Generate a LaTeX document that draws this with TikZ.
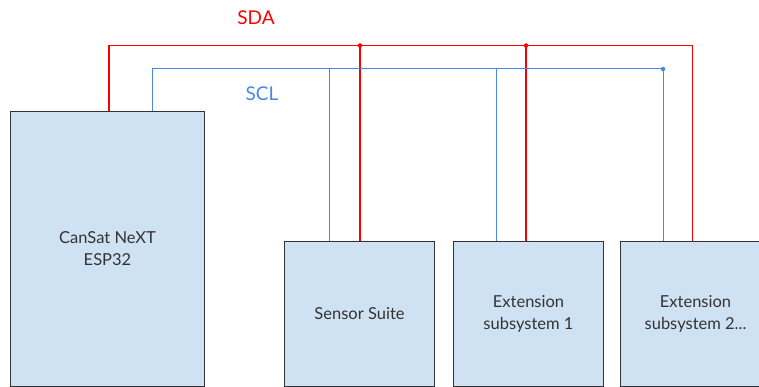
\documentclass[tikz,border=0pt]{standalone}
\usepackage{fontspec}
\setmainfont{Lato}
\usetikzlibrary{positioning}
\definecolor{boxfill}{HTML}{CFE2F3}
\definecolor{boxline}{HTML}{333333}
\definecolor{sdared}{HTML}{FF0000}
\definecolor{sclblue}{HTML}{4A86E8}
\tikzstyle{block} = [rectangle, draw=boxline, fill=boxfill, line width=1pt, text=boxline, font=\fontsize{16.5}{22}\selectfont, align=center, inner sep=0pt]
\tikzstyle{sdaline} = [draw=sdared, line width=1.2pt]
\tikzstyle{sclline} = [draw=sclblue, line width=1pt]
\tikzstyle{joint} = [circle, inner sep=0pt, minimum size=4.5pt]

\begin{document}
\begin{tikzpicture}[x=1pt,y=-1pt]
	\useasboundingbox (0,0) rectangle (759,387);
	% blocks
	\node[block, minimum width=194pt, minimum height=275pt, anchor=north west] (esp) at (10,111) {CanSat NeXT\\ESP32};
	\node[block, minimum width=150pt, minimum height=145pt, anchor=north west] (sensor) at (284,241) {Sensor Suite};
	\node[block, minimum width=150pt, minimum height=145pt, right=18pt of sensor] (ext1) {Extension\\subsystem 1};
	\node[block, minimum width=150pt, minimum height=145pt, right=16pt of ext1] (ext2) {Extension\\subsystem 2...};
	
	% bus corners and joints
	\coordinate (sdaL) at (109,45.5);
	\coordinate (sdaA) at (360,45.5);
	\coordinate (sdaB) at (526,45.5);
	\coordinate (sdaR) at (692.5,45.5);
	\coordinate (sclL) at (152,69);
	\coordinate (sclA) at (329,69);
	\coordinate (sclB) at (496,69);
	\coordinate (sclR) at (663,69);
	
	% SDA
	\draw[sdaline] (sdaL |- esp.north) -- (sdaL) -- (sdaR) -- (sdaR |- ext2.north);
	\draw[sdaline] (sdaA) -- (sdaA |- sensor.north);
	\draw[sdaline] (sdaB) -- (sdaB |- ext1.north);
	\node[joint, fill=sdared] at (sdaA) {};
	\node[joint, fill=sdared] at (sdaB) {};
	
	% SCL
	\draw[sclline] (sclL |- esp.north) -- (sclL) -- (sclR) -- (sclR |- ext2.north);
	\draw[sclline] (sclA) -- (sclA |- sensor.north);
	\draw[sclline] (sclB) -- (sclB |- ext1.north);
	\node[joint, fill=sclblue] at (sclR) {};
	
	% labels
	\node[text=sdared, font=\fontsize{19}{22}\selectfont] (sdalabel) at (256,18) {SDA};
	\node[text=sclblue, font=\fontsize{19}{22}\selectfont] (scllabel) at (262,94) {SCL};
\end{tikzpicture}
\end{document}
